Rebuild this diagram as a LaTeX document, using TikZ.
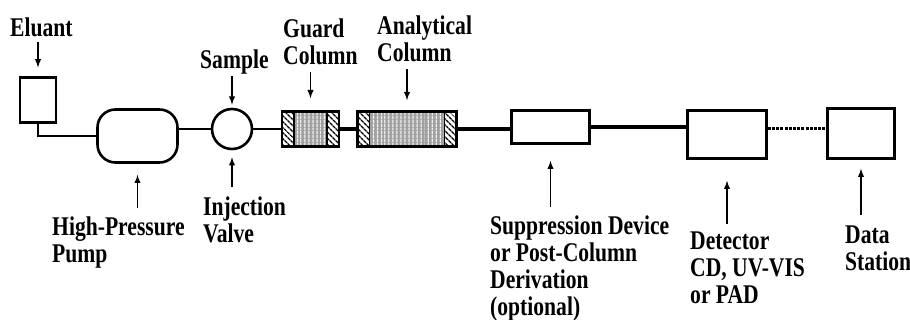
\documentclass[tikz,border=0pt]{standalone}
\usepackage{fontspec}
\setmainfont[FakeStretch=0.8]{Liberation Serif}
\usetikzlibrary{arrows,patterns.meta}
\newcommand{\lbl}{\fontsize{27}{27}\selectfont\bfseries}
\newcommand{\ppbb}{path picture bounding box}

\begin{document}
\begin{tikzpicture}[x=1pt,y=-1pt,
   box/.style={draw, line width=2.6pt, fill=white, inner sep=0pt},
   column/.style={box, minimum height=35pt, path picture={
      \fill[gray!75] ([xshift=12pt]\ppbb.south west) rectangle ([xshift=-12pt]\ppbb.north east);
      \fill[pattern={Lines[angle=90,distance=4pt,line width=1.3pt]}, pattern color=white]
         ([xshift=12pt]\ppbb.south west) rectangle ([xshift=-12pt]\ppbb.north east);
      \fill[pattern={Lines[angle=-45,distance=4pt,line width=1.5pt]}]
         (\ppbb.south west) rectangle ([xshift=12pt]\ppbb.north west);
      \fill[pattern={Lines[angle=-45,distance=4pt,line width=1.5pt]}]
         ([xshift=-12pt]\ppbb.south east) rectangle (\ppbb.north east);
      \draw[line width=1.6pt] ([xshift=12pt]\ppbb.south west) -- ([xshift=12pt]\ppbb.north west);
      \draw[line width=1.6pt] ([xshift=-12pt]\ppbb.south east) -- ([xshift=-12pt]\ppbb.north east);}},
   tag/.style={anchor=north west, align=left, inner sep=0pt, font=\lbl},
   pointer/.style={-latex, line width=1.8pt, shorten <=6pt, shorten >=10pt},
   pipe/.style={line width=2.8pt}]
   \useasboundingbox (0,0) rectangle (910,320);

   % instruments along the flow line
   \node[box, line width=2.2pt, minimum width=36pt, minimum height=45pt] (eluant) at (38,100) {};
   \node[box, rounded corners=18pt, minimum width=80pt, minimum height=53pt] (pump) at (137.5,136) {};
   \node[box, circle, minimum size=40pt] (valve) at (232,129) {};
   \node[column, minimum width=57pt] (guard) at (310.5,129) {};
   \node[column, minimum width=99pt] (analytical) at (407,129) {};
   \node[box, minimum width=78pt, minimum height=33pt] (supp) at (550.5,127) {};
   \node[box, minimum width=79pt, minimum height=48pt] (detector) at (727,134.5) {};
   \node[box, minimum width=67pt, minimum height=50pt] (station) at (861,133.5) {};

   % tubing
   \draw[pipe] (eluant.south) |- (pump.west);
   \draw[pipe] (valve.west) -- (valve.west -| pump.east);
   \draw[pipe] (valve.east) -- (valve.east -| guard.west);
   \draw[pipe, line width=3.4pt] (guard.east) -- (guard.east -| analytical.west);
   \draw[pipe, line width=3.4pt] (analytical.east) -- (analytical.east -| supp.west);
   \draw[pipe, line width=3.8pt] (supp.east) -- (supp.east -| detector.west);
   \draw[line width=3.8pt, dash pattern=on 3pt off 1.2pt] ([yshift=6pt]detector.east) -- ([yshift=6pt]detector.east -| station.west);

   % labels
   \node[tag] (eluanttag) at (10,18) {Eluant};
   \node[tag] (sampletag) at (200,50) {Sample};
   \node[tag] (guardtag) at (283,19) {Guard\\Column};
   \node[tag] (analytag) at (377,16) {Analytical\\Column};
   \node[tag] (pumptag) at (52,217) {High-Pressure\\Pump};
   \node[tag] (valvetag) at (203,197) {Injection\\Valve};
   \node[tag] (supptag) at (490,216) {Suppression Device\\or Post-Column\\Derivation\\(optional)};
   \node[tag] (dettag) at (690,232) {Detector\\CD, UV-VIS\\or PAD};
   \node[tag] (stationtag) at (845,226) {Data\\Station};

   % pointers
   \draw[pointer, shorten <=5pt, shorten >=9pt] (eluanttag.south -| eluant.north) -- (eluant.north);
   \draw[pointer, shorten <=1pt, shorten >=3pt] (sampletag.south -| valve.north) -- (valve.north);
   \draw[pointer, shorten <=7pt, shorten >=12pt] (guardtag.south -| guard.north) -- (guard.north);
   \draw[pointer, shorten <=7pt, shorten >=10pt] (analytag.south -| analytical.north) -- (analytical.north);
   \draw[pointer, shorten <=9pt, shorten >=11pt] (pumptag.north -| pump.south) -- (pump.south);
   \draw[pointer, shorten <=10pt, shorten >=7pt] (valvetag.north -| valve.south) -- (valve.south);
   \draw[pointer, shorten <=9pt, shorten >=16pt] (supptag.north -| supp.south) -- (supp.south);
   \draw[pointer, shorten <=8pt, shorten >=21pt] (dettag.north -| detector.south) -- (detector.south);
   \draw[pointer, shorten <=11pt, shorten >=9pt] (stationtag.north -| station.south) -- (station.south);
\end{tikzpicture}
\end{document}
